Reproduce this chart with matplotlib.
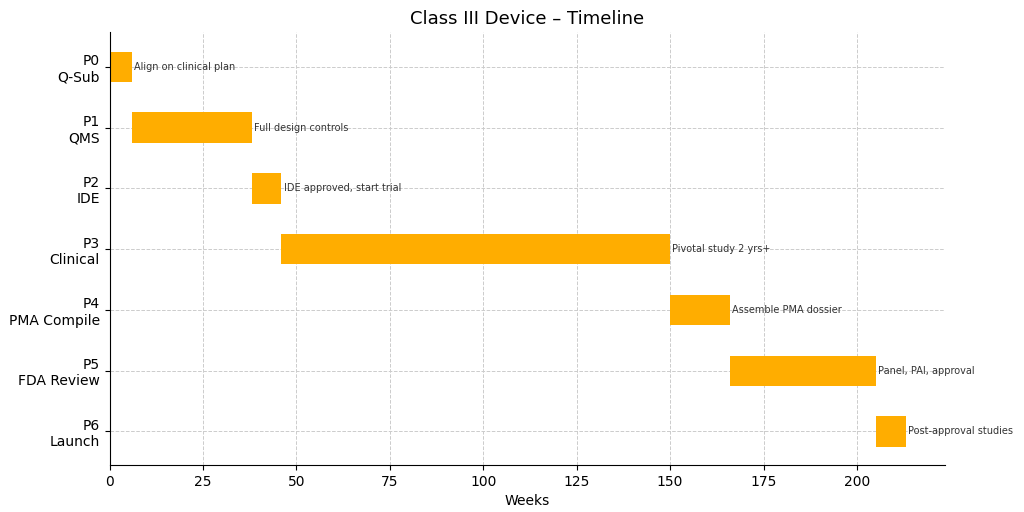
import matplotlib.pyplot as plt

# phases of the timeline (weeks)
phases = ["P0\nQ-Sub", "P1\nQMS", "P2\nIDE", "P3\nClinical", "P4\nPMA Compile", "P5\nFDA Review", "P6\nLaunch"]
starts = [0, 6, 38, 46, 150, 166, 205]
durations = [6, 32, 8, 104, 16, 39, 8]
notes = ["Align on clinical plan", "Full design controls", "IDE approved, start trial",
         "Pivotal study 2 yrs+", "Assemble PMA dossier", "Panel, PAI, approval", "Post-approval studies"]

fig, ax = plt.subplots(figsize=(10.24, 5.12), dpi=100)
ypos = list(range(len(phases)))
ax.barh(ypos, durations, left=starts, height=0.5, color="#FFAD00")
for y, s, d, n in zip(ypos, starts, durations, notes):
    ax.text(s + d + 0.6, y, n, va="center", ha="left", fontsize=7, color="#333333")

ax.set_yticks(ypos)
ax.set_yticklabels(phases, fontsize=10)
ax.invert_yaxis()
ax.set_ylim(6.55, -0.57)
ax.set_xlim(0, 223.6)
ax.set_xticks([0, 25, 50, 75, 100, 125, 150, 175, 200])
ax.tick_params(axis="x", labelsize=10)
ax.set_xlabel("Weeks", fontsize=10)
ax.set_title("Class III Device – Timeline", fontsize=13)
ax.grid(True, linestyle="--", color="#cccccc", linewidth=0.7)
ax.set_axisbelow(True)
ax.spines["top"].set_visible(False)
ax.spines["right"].set_visible(False)

plt.subplots_adjust(left=0.107, right=0.923, top=0.937, bottom=0.092)
plt.savefig("out.png")
